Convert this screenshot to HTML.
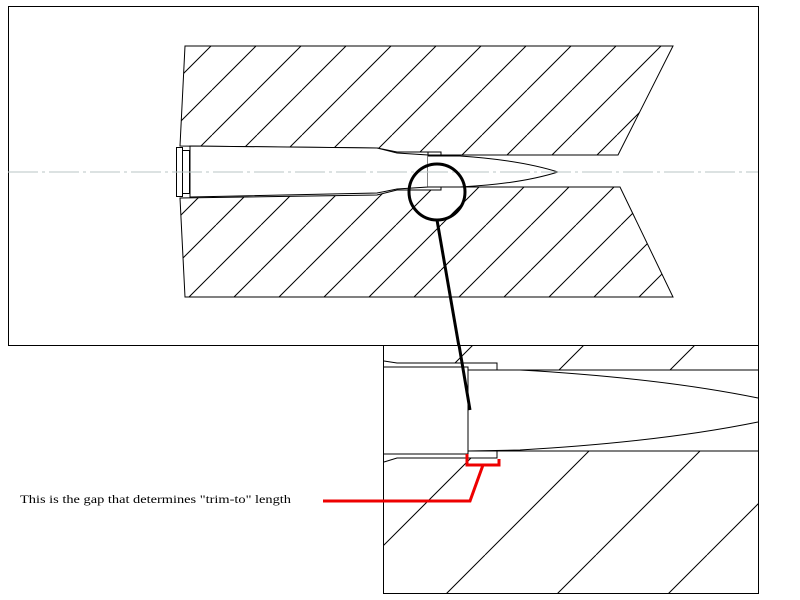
<!DOCTYPE html>
<html><head><style>body{margin:0;background:#fff}svg{display:block}</style></head>
<body>
<svg width="800" height="600" viewBox="0 0 800 600" xmlns="http://www.w3.org/2000/svg">
<defs>
<pattern id="hu" patternUnits="userSpaceOnUse" width="45" height="45">
<path d="M32,0 L-13,45 M77,0 L32,45" stroke="#000" stroke-width="1"/>
</pattern>
<pattern id="hl" patternUnits="userSpaceOnUse" width="45" height="45">
<path d="M36,0 L-9,45 M81,0 L36,45" stroke="#000" stroke-width="1"/>
</pattern>
<pattern id="hb" patternUnits="userSpaceOnUse" width="111" height="111">
<path d="M41,0 L-70,111 M152,0 L41,111" stroke="#000" stroke-width="1"/>
</pattern>
</defs>
<rect width="800" height="600" fill="#fff"/>
<!-- top frame -->
<rect x="8.5" y="6.5" width="750" height="339" fill="none" stroke="#000"/>
<!-- upper die -->
<path d="M185,46 L673,46 L618,155 L428,155 L428,152 L397,152 L377,148 L180,146 Z" fill="url(#hu)" stroke="#000"/>
<!-- lower die -->
<path d="M180,198 L377,195 L397,190 L441,190 L441,187 L620,187 L673,297 L185,297 Z" fill="url(#hl)" stroke="#000"/>
<!-- case -->
<path d="M190,146 L377,148 L397,153 L428,155 L428,187 L397,189 L377,193 L190,197 Z" fill="#fff" stroke="#000"/>
<rect x="176.5" y="147.5" width="6" height="49" fill="#fff" stroke="#000"/>
<rect x="182.5" y="150.5" width="7" height="43" fill="#fff" stroke="#000"/>
<!-- bullet -->
<path d="M428,156 L460,156 Q520,160 558,172 Q520,184 460,187 L428,187" fill="#fff" stroke="#000"/>
<path d="M428,152 L441,152 L441,156 M428,190 L441,190 L441,187" fill="none" stroke="#000"/>
<line x1="441" y1="187" x2="620" y2="187" stroke="#000"/>
<line x1="441" y1="155" x2="618" y2="155" stroke="#000"/>
<!-- centerline -->
<line x1="8" y1="172" x2="758" y2="172" stroke="#b8c4c4" stroke-dasharray="30,4,3,4"/>
<!-- circle & leader -->
<circle cx="437" cy="192" r="28" fill="none" stroke="#000" stroke-width="3"/>
<line x1="437" y1="220" x2="470" y2="410" stroke="#000" stroke-width="3"/>
<!-- bottom frame -->
<rect x="383.5" y="345.5" width="375" height="248" fill="#fff" stroke="#000"/>
<path d="M384,346 L758,346 L758,370 L497,370 L497,363 L397,363 L384,361 Z" fill="url(#hb)" stroke="none"/>
<path d="M384,459 L397,458 L497,458 L497,451 L758,451 L758,593 L384,593 Z" fill="url(#hb)" stroke="none"/>
<path d="M384,361 L397,363 L497,363 L497,370 L758,370" fill="none" stroke="#000"/>
<path d="M384,367 L468,367 L468,451" fill="none" stroke="#000"/>
<path d="M384,454 L468,454 L468,451 L758,451" fill="none" stroke="#000"/>
<path d="M384,462 L397,458 L497,458 L497,451" fill="none" stroke="#000"/>
<path d="M468,370 L520,370 Q660,378 758,398" fill="none" stroke="#000"/>
<path d="M468,451 L520,450 Q660,442 758,422" fill="none" stroke="#000"/>
<rect x="383.5" y="345.5" width="375" height="248" fill="none" stroke="#000"/>
<line x1="437" y1="340" x2="470" y2="410" stroke="#000" stroke-width="0" />
<line x1="459" y1="345" x2="470" y2="410" stroke="#000" stroke-width="3"/>
<!-- red bracket -->
<path d="M467,454 L467,465 L499,465 L499,459 M483,465 L470,501 L323,501" fill="none" stroke="#e00" stroke-width="3"/>
<text x="20" y="503" font-family="Liberation Serif, serif" font-size="12" textLength="271" lengthAdjust="spacingAndGlyphs">This is the gap that determines "trim-to" length</text>
</svg>
</body></html>
